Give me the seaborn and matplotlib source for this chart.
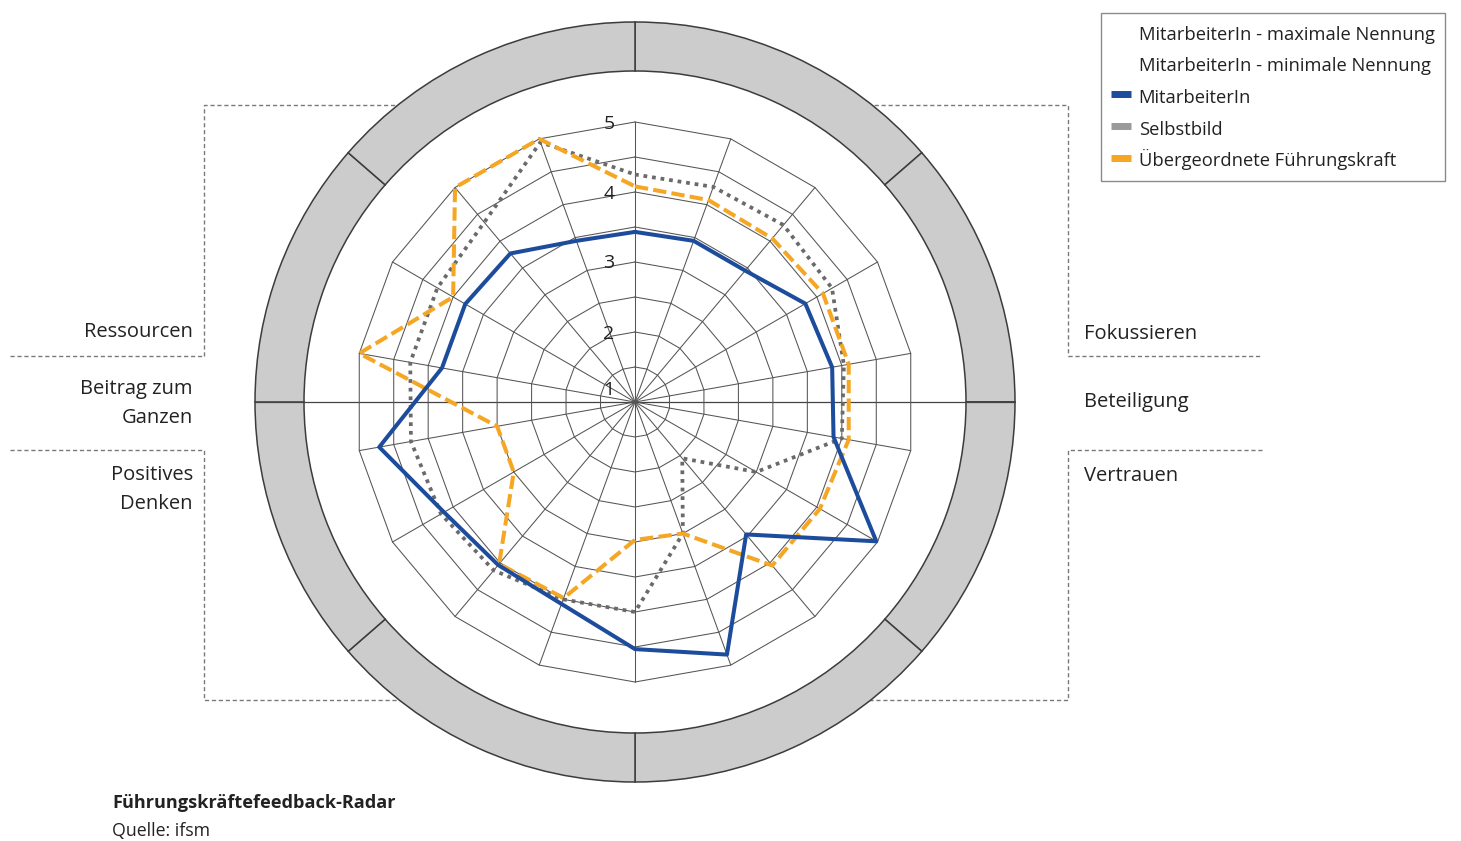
import numpy as np
import pandas as pd
import matplotlib
matplotlib.use("Agg")
import matplotlib.pyplot as plt
import seaborn as sns
from matplotlib.patches import Wedge, Circle
from matplotlib.lines import Line2D

# ---------------- data ----------------
spoke_angles = list(range(0, 360, 20))  # 18 items, clockwise from top
mitarbeiter = [3.43, 3.45, 3.45, 3.81, 3.86, 3.88, 4.98, 3.47, 4.84,
               4.53, 4.07, 4.04, 4.15, 4.71, 3.80, 3.80, 3.77, 3.45]
selbstbild = [4.25, 4.27, 4.30, 4.25, 4.03, 4.00, 3.00, 2.05, 3.00,
              4.00, 4.00, 4.14, 4.20, 4.25, 4.26, 4.26, 4.35, 4.95]
fuehrungskraft = [4.08, 4.07, 4.05, 4.10, 4.10, 4.10, 4.05, 4.05, 3.00,
                  2.97, 3.98, 4.02, 3.00, 3.00, 5.00, 4.00, 5.00, 5.00]
radial_ticks = [1, 2, 3, 4, 5]
grid_values = [1.5, 2, 2.5, 3, 3.5, 4, 4.5, 5]
legend_labels = ["MitarbeiterIn - maximale Nennung", "MitarbeiterIn - minimale Nennung",
                 "MitarbeiterIn", "Selbstbild", "Übergeordnete Führungskraft"]
left_labels = [["Ressourcen"], ["Beitrag zum", "Ganzen"], ["Positives", "Denken"]]
right_labels = ["Fokussieren", "Beteiligung", "Vertrauen"]
title = "Führungskräftefeedback-Radar"
source = "Quelle: ifsm"

# ---------------- style ----------------
sns.set_theme(style="white")
plt.rcParams['font.family'] = ['Open Sans', 'DejaVu Sans']

W, H = 1461, 841
fig = plt.figure(figsize=(W / 100, H / 100), dpi=100)
ax = fig.add_axes([0, 0, 1, 1])
ax.set_xlim(0, W)
ax.set_ylim(H, 0)
ax.axis('off')

CX, CY = 635, 402
UNIT = 70.0          # pixels per value unit, value 1 at centre
R_OUT, R_IN = 380, 331

BLUE = '#1d4c9c'
ORANGE = '#f5a623'
GRAY = '#6a6a6a'
GRID = '#555555'
TXT = '#222222'

def to_xy(vals):
    th = np.deg2rad(np.array(spoke_angles + [spoke_angles[0]], dtype=float))
    v = np.array(list(vals) + [vals[0]], dtype=float)
    r = (v - 1) * UNIT
    return CX + r * np.sin(th), CY - r * np.cos(th)

# dotted frame (behind circle)
fk = dict(color='#7a7a7a', lw=1.0, dashes=(3, 2), zorder=0.5)
ax.plot([204, 204, 500], [356, 105, 105], **fk)
ax.plot([10, 204], [356, 356], **fk)
ax.plot([10, 204, 204, 500], [450, 450, 700, 700], **fk)
ax.plot([770, 1068, 1068], [105, 105, 356], **fk)
ax.plot([1068, 1262], [356, 356], **fk)
ax.plot([1262, 1068, 1068, 770], [450, 450, 700, 700], **fk)

# white disc + grey ring
ax.add_patch(Circle((CX, CY), R_OUT, facecolor='white', edgecolor='none', zorder=1))
bounds = [0, 49, 90, 131, 180, 229, 270, 311, 360]
for a, b in zip(bounds[:-1], bounds[1:]):
    ax.add_patch(Wedge((CX, CY), R_OUT, a - 90, b - 90, width=R_OUT - R_IN,
                       facecolor='#cccccc', edgecolor='#3c3c3c', lw=1.1, zorder=2))
ax.plot([CX - R_OUT, CX + R_OUT], [CY, CY], color='#444444', lw=0.9, zorder=2.5)

# polygon grid
th = np.deg2rad(np.array(spoke_angles + [spoke_angles[0]], dtype=float))
for gv in grid_values:
    r = (gv - 1) * UNIT
    ax.plot(CX + r * np.sin(th), CY - r * np.cos(th), color=GRID, lw=0.75, zorder=3)
for a in spoke_angles:
    t = np.deg2rad(a)
    r = (grid_values[-1] - 1) * UNIT
    ax.plot([CX, CX + r * np.sin(t)], [CY, CY - r * np.cos(t)], color=GRID, lw=0.75, zorder=3)

# radial tick labels
for v in radial_ticks:
    r = max((v - 1) * UNIT, 14)
    ax.text(609, CY - r + 6.5, str(v), ha='center', va='baseline', fontsize=14,
            color=TXT, zorder=4)

# data series via seaborn
x, y = to_xy(selbstbild)
sns.lineplot(x=x, y=y, sort=False, estimator=None, ax=ax, color=GRAY, lw=2.7,
             linestyle=(0, (1, 1.3)), zorder=5, legend=False)
x, y = to_xy(fuehrungskraft)
sns.lineplot(x=x, y=y, sort=False, estimator=None, ax=ax, color=ORANGE, lw=2.9,
             linestyle=(0, (3.3, 1.3)), zorder=6, legend=False)
x, y = to_xy(mitarbeiter)
sns.lineplot(x=x, y=y, sort=False, estimator=None, ax=ax, color=BLUE, lw=2.9,
             zorder=7, legend=False)
ax.set_xlim(0, W)
ax.set_ylim(H, 0)
ax.axis('off')

# category labels
FS = 14.5
ax.text(193, 337, left_labels[0][0], ha='right', va='baseline', fontsize=FS, color=TXT)
ax.text(193, 394, left_labels[1][0], ha='right', va='baseline', fontsize=FS, color=TXT)
ax.text(193, 422.5, left_labels[1][1], ha='right', va='baseline', fontsize=FS, color=TXT)
ax.text(193, 480, left_labels[2][0], ha='right', va='baseline', fontsize=FS, color=TXT)
ax.text(193, 508.5, left_labels[2][1], ha='right', va='baseline', fontsize=FS, color=TXT)
ax.text(1084, 339, right_labels[0], ha='left', va='baseline', fontsize=FS, color=TXT)
ax.text(1084, 407, right_labels[1], ha='left', va='baseline', fontsize=FS, color=TXT)
ax.text(1084, 481, right_labels[2], ha='left', va='baseline', fontsize=FS, color=TXT)

# footer
ax.text(112, 808, title, ha='left', va='baseline', fontsize=13.1, fontweight='bold', color=TXT)
ax.text(112, 836, source, ha='left', va='baseline', fontsize=12.8, color=TXT)

# legend
handles = [Line2D([], [], color='none', lw=5),
           Line2D([], [], color='none', lw=5),
           Line2D([], [], color=BLUE, lw=5, solid_capstyle='butt'),
           Line2D([], [], color='#9a9a9a', lw=5, solid_capstyle='butt'),
           Line2D([], [], color=ORANGE, lw=5, solid_capstyle='butt')]
leg = ax.legend(handles, legend_labels, loc='upper left',
                bbox_to_anchor=(1101 / W, 1 - 12.5 / H), bbox_transform=fig.transFigure,
                borderaxespad=0, fontsize=13.2, frameon=True, fancybox=False,
                framealpha=1, edgecolor='#8a8a8a', handlelength=1.1, handleheight=1.45,
                handletextpad=0.4, labelspacing=0.54, borderpad=0.55)
leg.get_frame().set_linewidth(1.0)
for t in leg.get_texts():
    t.set_color(TXT)

fig.savefig('out.png', dpi=100, facecolor='white')
